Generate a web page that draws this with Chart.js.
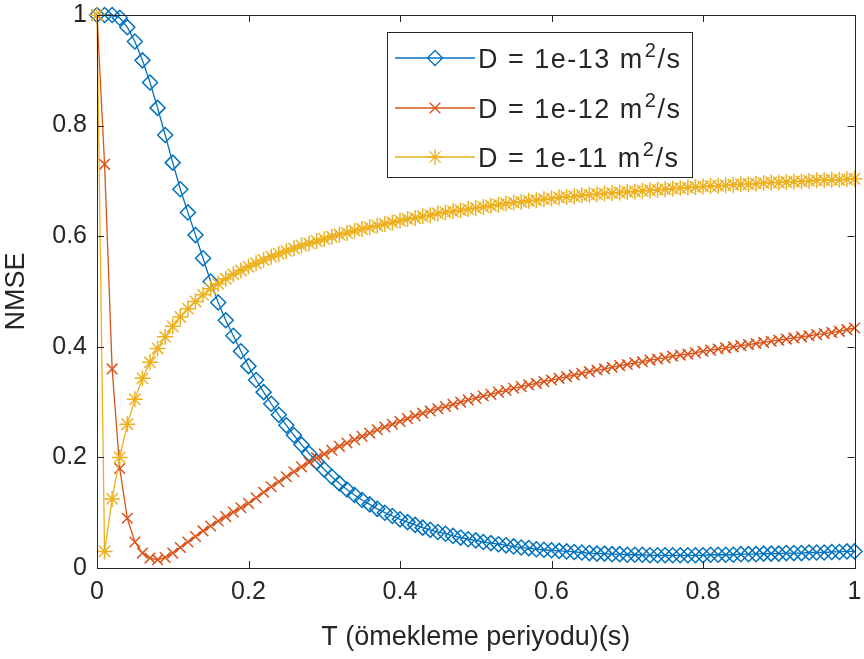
<!DOCTYPE html>
<html><head><meta charset="utf-8">
<script src="https://cdn.jsdelivr.net/npm/chart.js@4/dist/chart.umd.min.js"></script>
<style>html,body{margin:0;padding:0;background:#fff;} #wrap{position:relative;width:864px;height:659px;}</style>
</head><body><div id="wrap"><canvas id="c" width="864" height="659"></canvas></div>
<script>
const tValues = [0,
 0.01,0.02,0.03,0.04,0.05,0.06,0.07,0.08,0.09,0.10,
 0.11,0.12,0.13,0.14,0.15,0.16,0.17,0.18,0.19,0.20,
 0.21,0.22,0.23,0.24,0.25,0.26,0.27,0.28,0.29,0.30,
 0.31,0.32,0.33,0.34,0.35,0.36,0.37,0.38,0.39,0.40,
 0.41,0.42,0.43,0.44,0.45,0.46,0.47,0.48,0.49,0.50,
 0.51,0.52,0.53,0.54,0.55,0.56,0.57,0.58,0.59,0.60,
 0.61,0.62,0.63,0.64,0.65,0.66,0.67,0.68,0.69,0.70,
 0.71,0.72,0.73,0.74,0.75,0.76,0.77,0.78,0.79,0.80,
 0.81,0.82,0.83,0.84,0.85,0.86,0.87,0.88,0.89,0.90,
 0.91,0.92,0.93,0.94,0.95,0.96,0.97,0.98,0.99,1.00];

const nmseD13 = [1.0,
 1.0,1.0,0.995,0.978,0.952,0.918,0.878,0.832,0.783,0.733,
 0.685,0.643,0.602,0.56,0.518,0.48,0.448,0.42,0.392,0.365,
 0.34,0.318,0.297,0.277,0.258,0.24,0.223,0.207,0.192,0.178,
 0.165,0.153,0.142,0.132,0.123,0.115,0.107,0.1,0.094,0.088,
 0.083,0.078,0.073,0.069,0.065,0.062,0.058,0.055,0.052,0.05,
 0.047,0.045,0.043,0.041,0.039,0.037,0.036,0.034,0.033,0.032,
 0.031,0.03,0.029,0.028,0.027,0.026,0.026,0.025,0.025,0.024,
 0.024,0.024,0.023,0.023,0.023,0.023,0.023,0.023,0.023,0.023,
 0.024,0.024,0.024,0.024,0.025,0.025,0.025,0.026,0.026,0.026,
 0.027,0.027,0.027,0.028,0.028,0.028,0.029,0.029,0.03,0.03];

const nmseD12 = [1.0,
 0.73,0.36,0.18,0.09,0.047,0.027,0.018,0.015,0.019,0.027,
 0.037,0.047,0.057,0.067,0.076,0.085,0.093,0.101,0.109,0.117,
 0.127,0.137,0.147,0.156,0.165,0.174,0.183,0.191,0.199,0.206,
 0.213,0.22,0.226,0.232,0.238,0.244,0.25,0.255,0.26,0.265,
 0.27,0.275,0.28,0.284,0.288,0.292,0.296,0.3,0.304,0.307,
 0.311,0.314,0.318,0.321,0.325,0.328,0.331,0.334,0.337,0.34,
 0.343,0.346,0.349,0.352,0.355,0.358,0.36,0.363,0.366,0.368,
 0.371,0.373,0.376,0.378,0.38,0.383,0.385,0.387,0.389,0.392,
 0.394,0.396,0.398,0.4,0.402,0.404,0.406,0.408,0.41,0.412,
 0.414,0.416,0.418,0.42,0.422,0.424,0.426,0.428,0.431,0.434];

const nmseD11 = [1.0,
 0.03,0.125,0.2,0.26,0.305,0.343,0.372,0.397,0.418,0.437,
 0.454,0.469,0.482,0.494,0.505,0.514,0.523,0.531,0.538,0.545,
 0.551,0.557,0.563,0.568,0.573,0.578,0.583,0.587,0.591,0.595,
 0.599,0.603,0.606,0.61,0.613,0.616,0.619,0.622,0.625,0.628,
 0.631,0.633,0.636,0.638,0.641,0.643,0.645,0.647,0.649,0.651,
 0.653,0.655,0.657,0.659,0.661,0.662,0.664,0.665,0.667,0.668,
 0.67,0.671,0.672,0.674,0.675,0.676,0.677,0.678,0.679,0.68,
 0.681,0.682,0.683,0.684,0.685,0.686,0.687,0.688,0.689,0.69,
 0.691,0.691,0.692,0.693,0.694,0.694,0.695,0.696,0.697,0.697,
 0.698,0.699,0.699,0.7,0.701,0.701,0.702,0.702,0.703,0.704];

const seriesNames = ['D = 1e-13 m', 'D = 1e-12 m', 'D = 1e-11 m'];
const seriesSup = '2';
const seriesUnitTail = '/s';
const xTicks = [0, 0.2, 0.4, 0.6, 0.8, 1];
const xTickLabels = ['0', '0.2', '0.4', '0.6', '0.8', '1'];
const yTicks = [0, 0.2, 0.4, 0.6, 0.8, 1];
const yTickLabels = ['0', '0.2', '0.4', '0.6', '0.8', '1'];
const xTitle = 'T (ömekleme periyodu)(s)';
const yTitle = 'NMSE';

const COLORS = ['#0072BD', '#D95319', '#EDB120'];
const STYLES = ['rectRot', 'crossRot', 'star'];
const RADII = [7.5, 7.5, 8];
const FONT = "'Liberation Sans', Arial, Helvetica, sans-serif";
const AXIS_COLOR = '#262626';

function pts(ys) { return tValues.map((t, i) => ({x: t, y: ys[i]})); }

const seriesData = [nmseD13, nmseD12, nmseD11];
const datasets = seriesData.map((ys, i) => ({
  label: seriesNames[i] + seriesSup + seriesUnitTail,
  data: pts(ys),
  borderColor: COLORS[i],
  backgroundColor: 'rgba(0,0,0,0)',
  borderWidth: 1.3,
  pointStyle: STYLES[i],
  pointRadius: RADII[i],
  pointBorderColor: COLORS[i],
  pointBackgroundColor: 'rgba(0,0,0,0)',
  pointBorderWidth: 1.5,
  tension: 0,
  clip: false,
  order: 3 - i
}));

const bgPlugin = {
  id: 'bg',
  beforeDraw(chart) {
    const ctx = chart.ctx;
    ctx.save();
    ctx.fillStyle = '#fff';
    ctx.fillRect(0, 0, chart.width, chart.height);
    ctx.restore();
  }
};

const boxPlugin = {
  id: 'box',
  afterDatasetsDraw(chart) {
    const {ctx, chartArea: a, scales} = chart;
    ctx.save();
    ctx.strokeStyle = AXIS_COLOR;
    ctx.lineWidth = 1;
    ctx.strokeRect(Math.round(a.left) + 0.5, Math.round(a.top) + 0.5,
                   Math.round(a.right - a.left), Math.round(a.bottom - a.top));
    const L = 7;
    ctx.beginPath();
    xTicks.forEach(v => {
      const px = Math.round(scales.x.getPixelForValue(v)) + 0.5;
      ctx.moveTo(px, a.bottom); ctx.lineTo(px, a.bottom - L);
      ctx.moveTo(px, a.top); ctx.lineTo(px, a.top + L);
    });
    yTicks.forEach(v => {
      const py = Math.round(scales.y.getPixelForValue(v)) + 0.5;
      ctx.moveTo(a.left, py); ctx.lineTo(a.left + L, py);
      ctx.moveTo(a.right, py); ctx.lineTo(a.right - L, py);
    });
    ctx.stroke();
    ctx.restore();
  }
};

const legendPlugin = {
  id: 'mlegend',
  afterDraw(chart) {
    const {ctx, chartArea: a} = chart;
    const bx = a.left + 290, by = a.top + 17, bw = 305, bh = 145;
    ctx.save();
    ctx.fillStyle = '#fff';
    ctx.fillRect(bx, by, bw, bh);
    ctx.strokeStyle = AXIS_COLOR;
    ctx.lineWidth = 1;
    ctx.strokeRect(Math.round(bx) + 0.5, Math.round(by) + 0.5, bw, bh);
    const rowY = [by + 26, by + 76, by + 125];
    chart.data.datasets.forEach((ds, i) => {
      const y = rowY[i];
      ctx.strokeStyle = ds.borderColor;
      ctx.lineWidth = 1.3;
      ctx.beginPath();
      ctx.moveTo(bx + 8, y); ctx.lineTo(bx + 88, y);
      ctx.stroke();
      ctx.fillStyle = 'rgba(0,0,0,0)';
      Chart.helpers.drawPoint(ctx, {pointStyle: ds.pointStyle, radius: ds.pointRadius, borderWidth: 1.5, rotation: 0}, bx + 48, y);
      ctx.fillStyle = AXIS_COLOR;
      ctx.textBaseline = 'alphabetic';
      ctx.textAlign = 'left';
      ctx.font = '27px ' + FONT;
      if ('letterSpacing' in ctx) ctx.letterSpacing = '1.5px';
      let tx = bx + 91;
      const base = y + 10;
      ctx.fillText(seriesNames[i], tx, base);
      tx += ctx.measureText(seriesNames[i]).width + 1;
      ctx.font = '20px ' + FONT;
      ctx.fillText(seriesSup, tx, base - 11);
      tx += ctx.measureText(seriesSup).width;
      ctx.font = '27px ' + FONT;
      ctx.fillText(seriesUnitTail, tx, base);
      if ('letterSpacing' in ctx) ctx.letterSpacing = '0px';
    });
    ctx.restore();
  }
};

new Chart(document.getElementById('c'), {
  type: 'line',
  data: { datasets },
  options: {
    responsive: false,
    animation: false,
    devicePixelRatio: 1,
    layout: { padding: { top: 15, right: 2, left: 0, bottom: 0 } },
    plugins: { legend: { display: false }, tooltip: { enabled: false } },
    scales: {
      x: {
        type: 'linear', min: 0, max: 1,
        afterBuildTicks: s => { s.ticks = xTicks.map(v => ({ value: v })); },
        afterFit: s => { s.height = 91; s.paddingLeft = 0; s.paddingRight = 0; },
        grid: { display: false, drawTicks: false },
        border: { display: false },
        ticks: { color: AXIS_COLOR, font: { family: FONT, size: 25 }, padding: 9, maxRotation: 0, autoSkip: false,
                 callback: (v, i) => xTickLabels[i] },
        title: { display: true, text: xTitle, color: AXIS_COLOR, font: { family: FONT, size: 27 }, padding: { top: 0, bottom: 5 } }
      },
      y: {
        type: 'linear', min: 0, max: 1,
        afterBuildTicks: s => { s.ticks = yTicks.map(v => ({ value: v })); },
        afterFit: s => { s.width = 97; s.paddingTop = 0; s.paddingBottom = 0; },
        grid: { display: false, drawTicks: false },
        border: { display: false },
        ticks: { color: AXIS_COLOR, font: { family: FONT, size: 25 }, padding: 10, autoSkip: false,
                 callback: (v, i) => yTickLabels[i] },
        title: { display: true, text: yTitle, color: AXIS_COLOR, font: { family: FONT, size: 27 }, padding: { top: 0, bottom: 0 } }
      }
    }
  },
  plugins: [bgPlugin, boxPlugin, legendPlugin]
});
</script>
</body></html>
